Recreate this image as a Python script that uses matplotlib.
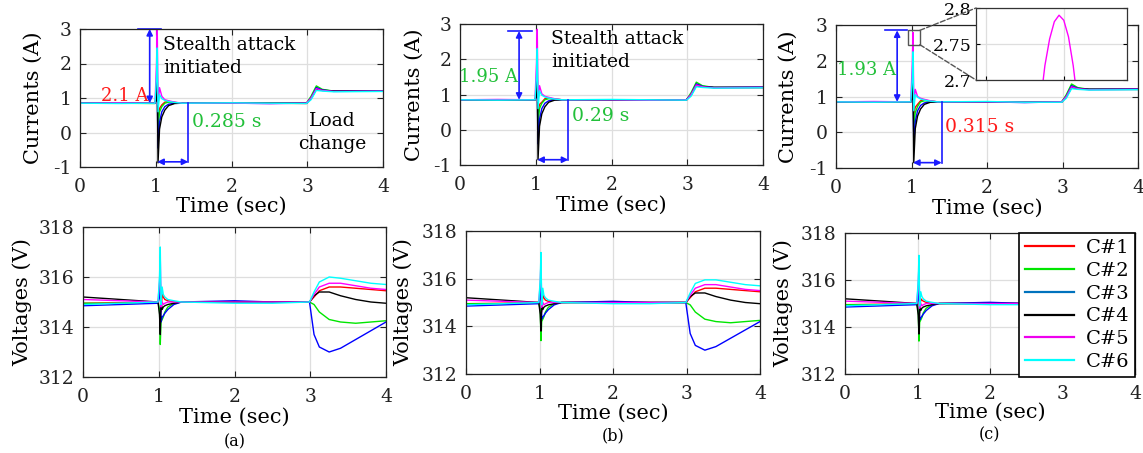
import matplotlib
matplotlib.use("Agg")
import matplotlib.pyplot as plt
from matplotlib.lines import Line2D
from matplotlib.patches import Rectangle, ConnectionPatch

plt.rcParams['font.family'] = ['DejaVu Serif']
plt.rcParams['axes.unicode_minus'] = False

names = ['C#1', 'C#2', 'C#3', 'C#4', 'C#5', 'C#6']
line_colors = ['#ff0000', '#00e600', '#0000ff', '#000000', '#ff00ff', '#00ffff']
legend_colors = ['#ff0000', '#00e600', '#0072bd', '#000000', '#ee00ee', '#00ffff']

# current samples (s)
tc = [0, 0.5, 0.99, 1.01, 1.02, 1.03, 1.05, 1.08, 1.12, 1.17, 1.25, 1.35,
      2.0, 2.5, 2.99, 3.05, 3.12, 3.2, 3.35, 4.0]

cur_a = [
    [0.85, 0.85, 0.85, 1.0, 1.5, 0.45, 0.7, 0.8, 0.88, 0.9, 0.87, 0.85, 0.85, 0.85, 0.84, 1.0, 1.3, 1.23, 1.2, 1.2],
    [0.85, 0.85, 0.84, 1.1, 1.8, 0.1, 0.6, 0.75, 0.85, 0.88, 0.87, 0.85, 0.85, 0.85, 0.85, 1.05, 1.35, 1.25, 1.2, 1.2],
    [0.85, 0.85, 0.85, 1.0, 1.2, -0.45, 0.3, 0.6, 0.75, 0.82, 0.85, 0.85, 0.85, 0.84, 0.85, 1.0, 1.3, 1.23, 1.2, 1.21],
    [0.85, 0.85, 0.85, 0.95, 1.5, -0.88, 0.1, 0.45, 0.65, 0.78, 0.84, 0.85, 0.85, 0.85, 0.85, 0.98, 1.25, 1.22, 1.2, 1.2],
    [0.85, 0.86, 0.85, 2.0, 3.0, 0.8, 1.3, 1.05, 0.95, 0.92, 0.88, 0.85, 0.85, 0.84, 0.85, 1.0, 1.27, 1.22, 1.19, 1.2],
    [0.85, 0.84, 0.85, 1.6, 2.45, 0.6, 1.1, 0.98, 0.93, 0.9, 0.87, 0.85, 0.86, 0.85, 0.84, 0.95, 1.22, 1.2, 1.18, 1.19],
]
cur_b = [
    [0.85, 0.85, 0.85, 1.0, 1.5, 0.5, 0.72, 0.78, 0.88, 0.9, 0.87, 0.85, 0.85, 0.85, 0.84, 1.0, 1.3, 1.23, 1.2, 1.2],
    [0.85, 0.85, 0.84, 1.1, 1.7, 0.15, 0.6, 0.75, 0.85, 0.88, 0.87, 0.85, 0.85, 0.85, 0.85, 1.05, 1.35, 1.25, 1.2, 1.2],
    [0.85, 0.85, 0.85, 1.0, 1.2, -0.4, 0.3, 0.6, 0.75, 0.82, 0.85, 0.85, 0.85, 0.84, 0.85, 1.0, 1.3, 1.23, 1.2, 1.21],
    [0.85, 0.85, 0.85, 0.95, 1.45, -0.85, 0.1, 0.45, 0.65, 0.78, 0.84, 0.85, 0.85, 0.85, 0.85, 0.98, 1.25, 1.22, 1.2, 1.2],
    [0.85, 0.86, 0.85, 1.9, 2.85, 0.8, 1.25, 1.02, 0.95, 0.92, 0.88, 0.85, 0.85, 0.84, 0.85, 1.0, 1.27, 1.22, 1.19, 1.2],
    [0.85, 0.84, 0.85, 1.5, 2.3, 0.6, 1.1, 0.98, 0.93, 0.9, 0.87, 0.85, 0.86, 0.85, 0.84, 0.95, 1.22, 1.2, 1.18, 1.19],
]
cur_c = [
    [0.85, 0.85, 0.85, 1.0, 1.45, 0.5, 0.7, 0.78, 0.88, 0.9, 0.87, 0.85, 0.85, 0.84, 0.84, 1.0, 1.3, 1.23, 1.2, 1.2],
    [0.85, 0.85, 0.84, 1.1, 1.7, 0.15, 0.55, 0.72, 0.85, 0.88, 0.87, 0.85, 0.85, 0.84, 0.85, 1.05, 1.35, 1.25, 1.2, 1.2],
    [0.85, 0.85, 0.85, 1.0, 1.2, -0.3, 0.3, 0.6, 0.75, 0.82, 0.85, 0.85, 0.85, 0.83, 0.85, 1.0, 1.3, 1.23, 1.2, 1.21],
    [0.85, 0.85, 0.85, 0.95, 1.45, -0.85, 0.1, 0.45, 0.65, 0.78, 0.84, 0.85, 0.85, 0.84, 0.85, 0.98, 1.25, 1.22, 1.2, 1.2],
    [0.85, 0.86, 0.85, 1.9, 2.79, 0.85, 1.2, 1.0, 0.95, 0.92, 0.88, 0.85, 0.85, 0.84, 0.85, 1.0, 1.27, 1.22, 1.19, 1.2],
    [0.85, 0.84, 0.85, 1.5, 2.25, 0.6, 1.05, 0.98, 0.93, 0.9, 0.87, 0.85, 0.86, 0.84, 0.84, 0.95, 1.22, 1.2, 1.18, 1.19],
]

# zoomed peak of C#5 in (c)
peak_t = [1.0192, 1.01945, 1.0197, 1.01995, 1.0202, 1.02045, 1.0207, 1.02095, 1.0212]
peak_i = [2.665, 2.72, 2.757, 2.781, 2.79, 2.783, 2.76, 2.72, 2.665]

# voltage samples (s)
tv = [0, 0.5, 0.99, 1.01, 1.02, 1.03, 1.045, 1.06, 1.08, 1.12, 1.2, 1.3,
      2.0, 2.5, 2.99, 3.05, 3.12, 3.25, 3.4, 3.6, 3.8, 4.0]

volt_a = [
    [314.95, 314.97, 315.0, 315.3, 315.8, 314.6, 315.3, 315.2, 315.1, 315.05, 315.0, 315.0, 315.0, 315.0, 315.0, 315.2, 315.45, 315.6, 315.6, 315.55, 315.5, 315.45],
    [314.95, 314.95, 315.0, 314.7, 313.3, 314.2, 314.3, 314.4, 314.6, 314.8, 314.95, 315.0, 315.0, 315.0, 315.0, 314.9, 314.6, 314.3, 314.2, 314.15, 314.2, 314.25],
    [314.85, 314.9, 314.95, 315.2, 316.0, 314.2, 314.4, 314.45, 314.55, 314.7, 314.9, 315.0, 315.05, 315.0, 315.0, 313.7, 313.2, 313.0, 313.15, 313.5, 313.85, 314.2],
    [315.2, 315.1, 315.0, 314.5, 313.7, 315.0, 314.7, 314.8, 314.85, 314.9, 314.95, 315.0, 315.0, 315.0, 315.0, 315.25, 315.4, 315.4, 315.25, 315.1, 315.0, 314.95],
    [315.1, 315.05, 315.0, 315.8, 316.8, 314.8, 315.0, 314.9, 314.95, 315.0, 315.0, 315.0, 315.0, 315.0, 315.0, 315.3, 315.6, 315.75, 315.75, 315.65, 315.55, 315.5],
    [314.9, 314.95, 315.0, 316.0, 317.2, 314.9, 315.6, 315.3, 315.2, 315.1, 315.05, 315.0, 314.95, 314.95, 315.0, 315.4, 315.8, 316.0, 315.95, 315.85, 315.75, 315.7],
]
volt_b = [
    [314.95, 314.97, 315.0, 315.3, 315.8, 314.6, 315.3, 315.2, 315.1, 315.05, 315.0, 315.0, 315.0, 315.0, 315.0, 315.2, 315.45, 315.6, 315.6, 315.55, 315.5, 315.45],
    [314.95, 314.95, 315.0, 314.7, 313.4, 314.2, 314.3, 314.4, 314.6, 314.8, 314.95, 315.0, 315.0, 315.0, 315.0, 314.9, 314.6, 314.3, 314.2, 314.15, 314.2, 314.25],
    [314.85, 314.9, 314.95, 315.2, 316.0, 314.3, 314.4, 314.45, 314.55, 314.7, 314.9, 315.0, 315.05, 315.0, 315.0, 313.7, 313.2, 313.0, 313.15, 313.5, 313.85, 314.2],
    [315.2, 315.1, 315.0, 314.5, 313.8, 315.0, 314.7, 314.8, 314.85, 314.9, 314.95, 315.0, 315.0, 315.0, 315.0, 315.25, 315.4, 315.4, 315.25, 315.1, 315.0, 314.95],
    [315.1, 315.05, 315.0, 315.8, 316.8, 314.8, 315.0, 314.9, 314.95, 315.0, 315.0, 315.0, 315.0, 315.0, 315.0, 315.3, 315.6, 315.75, 315.75, 315.65, 315.55, 315.5],
    [314.9, 314.95, 315.0, 316.0, 317.1, 314.9, 315.6, 315.3, 315.2, 315.1, 315.05, 315.0, 314.95, 314.95, 315.0, 315.4, 315.8, 315.95, 315.95, 315.85, 315.75, 315.7],
]
volt_c = [
    [314.95, 314.97, 315.0, 315.3, 315.8, 314.6, 315.2, 315.15, 315.1, 315.05, 315.0, 315.0, 315.0, 315.0, 315.0, 315.2, 315.45, 315.6, 315.6, 315.55, 315.5, 315.45],
    [314.95, 314.95, 315.0, 314.7, 313.4, 314.2, 314.3, 314.4, 314.6, 314.8, 314.95, 315.0, 315.0, 315.0, 315.0, 314.9, 314.6, 314.3, 314.2, 314.15, 314.2, 314.25],
    [314.85, 314.9, 314.95, 315.2, 316.0, 314.3, 314.4, 314.45, 314.55, 314.7, 314.9, 315.0, 315.05, 315.0, 315.0, 313.7, 313.2, 313.0, 313.15, 313.5, 313.85, 314.2],
    [315.2, 315.1, 315.0, 314.5, 313.7, 315.0, 314.7, 314.8, 314.85, 314.9, 314.95, 315.0, 315.0, 315.0, 315.0, 315.25, 315.4, 315.4, 315.25, 315.1, 315.0, 314.95],
    [315.1, 315.05, 315.0, 315.8, 316.7, 314.8, 315.0, 314.9, 314.95, 315.0, 315.0, 315.0, 315.0, 315.0, 315.0, 315.3, 315.6, 315.75, 315.75, 315.65, 315.55, 315.5],
    [314.9, 314.95, 315.0, 316.0, 317.05, 314.9, 315.5, 315.3, 315.2, 315.1, 315.05, 315.0, 314.95, 314.95, 315.0, 315.4, 315.8, 315.95, 315.95, 315.85, 315.75, 315.7],
]

W, H = 1143, 453
fig = plt.figure(figsize=(W / 100, H / 100), dpi=100)


def px_axes(x0, y0, x1, y1):
    return fig.add_axes([x0 / W, 1 - y1 / H, (x1 - x0) / W, (y1 - y0) / H])


def style(ax, yticks, ylim, ylab, ylab_x, xlab_y):
    ax.set_xlim(0, 4)
    ax.set_ylim(*ylim)
    ax.set_xticks([0, 1, 2, 3, 4])
    ax.set_yticks(yticks)
    ax.grid(True, color='#dedede', lw=0.9)
    ax.set_axisbelow(True)
    ax.tick_params(direction='in', top=True, right=True, labelsize=13.5,
                   length=4, colors='#222222')
    ax.tick_params(axis='x', pad=8)
    ax.tick_params(axis='y', pad=6)
    for s in ax.spines.values():
        s.set_color('#222222')
        s.set_linewidth(0.9)
    ax.set_xlabel('Time (sec)', fontsize=15)
    ax.xaxis.set_label_coords(0.5, xlab_y)
    ax.set_ylabel(ylab, fontsize=15)
    ax.yaxis.set_label_coords(ylab_x, 0.5)


top_boxes = [(80, 29, 383, 167), (460, 24, 763, 165), (836, 25, 1138, 168)]
bot_boxes = [(83, 227, 386, 377), (466, 231, 760, 374), (845, 233, 1135, 374)]
top_ylab_x = [-0.122, -0.12, -0.126]
bot_ylab_x = [-0.168, -0.18, -0.18]
currents = [cur_a, cur_b, cur_c]
voltages = [volt_a, volt_b, volt_c]
tags = ['(a)', '(b)', '(c)']

top_axes = []
for k in range(3):
    ax = px_axes(*top_boxes[k])
    for j in range(6):
        ax.plot(tc, currents[k][j], color=line_colors[j], lw=1.0)
    style(ax, [-1, 0, 1, 2, 3], (-1, 3), 'Currents (A)', top_ylab_x[k], -0.215)
    top_axes.append(ax)

bot_axes = []
for k in range(3):
    ax = px_axes(*bot_boxes[k])
    for j in range(6):
        ax.plot(tv, voltages[k][j], color=line_colors[j], lw=1.0)
    style(ax, [312, 314, 316, 318], (312, 318), 'Voltages (V)', bot_ylab_x[k], -0.205)
    ax.text(0.5, -0.43, tags[k], transform=ax.transAxes, ha='center',
            va='center', fontsize=11.5)
    bot_axes.append(ax)

# legend
handles = [Line2D([0], [0], color=c, lw=1.6) for c in legend_colors]
leg = bot_axes[2].legend(handles, names, loc='upper right',
                         bbox_to_anchor=(1.0, 1.0), borderaxespad=0,
                         fontsize=14, frameon=True, fancybox=False,
                         framealpha=1, edgecolor='black', handlelength=2.5,
                         labelspacing=0.25, borderpad=0.3, handletextpad=0.6)
leg.get_frame().set_linewidth(1.2)

blue = '#1a1aff'
green_txt = '#22c03a'
arr = dict(arrowstyle='<|-|>', color=blue, lw=1.2, mutation_scale=9,
           shrinkA=0, shrinkB=0)

# annotation settings per top panel
arrow_x = [0.92, 0.78, 0.81]
top_line = [(0.77, 1.07, 3.0), (0.63, 0.95, 2.8), (0.65, 0.94, 2.85)]
amp_txt = ['2.1 A', '1.95 A', '1.93 A']
amp_col = ['#ff1a1a', green_txt, green_txt]
amp_y = [1.05, 1.5, 1.75]
settle_x = [1.43, 1.43, 1.40]
time_txt = ['0.285 s', '0.29 s', '0.315 s']
time_col = [green_txt, green_txt, '#ff1a1a']
time_y = [0.3, 0.4, 0.15]

for k, ax in enumerate(top_axes):
    x0, x1, yt = top_line[k]
    ax.plot([x0, x1], [yt, yt], color=blue, lw=1.2, clip_on=False)
    ax.annotate('', xy=(arrow_x[k], 0.85), xytext=(arrow_x[k], yt),
                arrowprops=arr)
    ax.text(arrow_x[k] - 0.02, amp_y[k], amp_txt[k], color=amp_col[k],
            fontsize=13, ha='right', va='center')
    ax.plot([settle_x[k], settle_x[k]], [0.85, -0.85], color=blue, lw=1.2)
    ax.annotate('', xy=(1.02, -0.85), xytext=(settle_x[k], -0.85),
                arrowprops=arr)
    ax.text(settle_x[k] + 0.05, time_y[k], time_txt[k], color=time_col[k],
            fontsize=13.5, ha='left', va='center')

top_axes[0].text(1.1, 2.2, 'Stealth attack\ninitiated', fontsize=13.5,
                 ha='left', va='center', linespacing=1.3)
top_axes[1].text(1.2, 2.25, 'Stealth attack\ninitiated', fontsize=13.5,
                 ha='left', va='center', linespacing=1.3)
top_axes[0].text(3.33, 0.0, 'Load\nchange', fontsize=13.5, ha='center',
                 va='center', linespacing=1.3)

# zoom box + inset on (c)
axc = top_axes[2]
axc.add_patch(Rectangle((0.95, 2.45), 0.16, 0.4, fill=False,
                        edgecolor='#555555', lw=1.0, zorder=5))
ins = px_axes(976, 8, 1127, 80)
ins.plot(peak_t, peak_i, color='#ff00ff', lw=1.0)
ins.set_xlim(1.0158, 1.0238)
ins.set_ylim(2.7, 2.8)
ins.set_yticks([2.7, 2.75, 2.8])
ins.set_yticklabels(['2.7', '2.75', '2.8'])
ins.set_xticks([1.01635, 1.02045])
ins.set_xticklabels([])
ins.grid(True, color='#dedede', lw=0.9)
ins.tick_params(direction='in', right=True, labelsize=12.5, pad=3, length=3)
for s in ins.spines.values():
    s.set_color('#333333')
    s.set_linewidth(0.9)
for yy, iy in [(2.85, 1), (2.45, 0)]:
    con = ConnectionPatch(xyA=(1.11, yy), coordsA=axc.transData,
                          xyB=(0, iy), coordsB=ins.transAxes,
                          color='#555555', lw=1.0, ls='--')
    fig.add_artist(con)

fig.savefig('out.png', dpi=100)
